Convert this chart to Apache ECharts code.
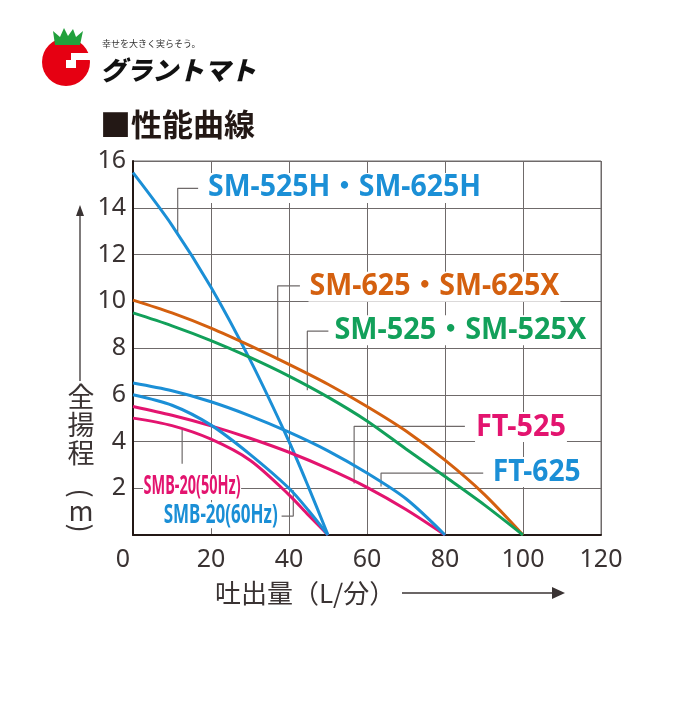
<!DOCTYPE html>
<html lang="ja">
<head>
  <meta charset="utf-8">
  <script src="https://cdn.jsdelivr.net/npm/echarts@6/dist/echarts.min.js"></script>
  <style>
    html, body { margin: 0; padding: 0; background: #fff; }
    #chart { width: 700px; height: 721px; }
  </style>
</head>
<body>
<div id="chart"></div>
<script>
  // 性能曲線データ（吐出量 L/分 → 全揚程 m）
  var flow100 = [0, 10, 20, 30, 40, 50, 60, 70, 80, 90, 100];
  var headSM625 = [10.05, 9.5, 8.85, 8.1, 7.3, 6.45, 5.5, 4.45, 3.2, 1.75, 0];
  var headSM525 = [9.5, 8.95, 8.32, 7.6, 6.8, 5.9, 4.88, 3.68, 2.5, 1.3, 0];

  var flow80 = [0, 10, 20, 30, 40, 50, 60, 70, 80];
  var headFT525 = [5.5, 5.12, 4.67, 4.14, 3.54, 2.84, 2.04, 1.09, 0];
  var headFT625 = [6.5, 6.17, 5.7, 5.1, 4.4, 3.6, 2.65, 1.55, 0];

  var flow50 = [0, 10, 20, 30, 40, 45, 50];
  var headSM525H = [15.5, 13.25, 10.6, 7.5, 4.0, 2.05, 0];
  var headSMB50 = [5.0, 4.68, 4.1, 3.2, 1.72, 0.85, 0];
  var headSMB60 = [6.0, 5.55, 4.7, 3.45, 2.0, 1.05, 0];

  var xTicks = [0, 20, 40, 60, 80, 100, 120];
  var yTicks = [0, 2, 4, 6, 8, 10, 12, 14, 16];

  var labelNames = ['SM-525H・SM-625H', 'SM-625・SM-625X', 'SM-525・SM-525X',
                    'FT-525', 'FT-625', 'SMB-20(50Hz)', 'SMB-20(60Hz)'];
  // 引き出し線（データ座標）
  var leaderLines = [
    [[16.7, 14.83], [11.46, 14.83], [11.46, 12.9]],
    [[42.8, 10.66], [37.1, 10.66], [37.1, 7.48]],
    [[50.1, 8.72], [44.7, 8.72], [44.7, 6.19]],
    [[85.1, 4.65], [56.7, 4.65], [56.7, 2.2]],
    [[89.8, 2.65], [63.6, 2.65], [63.6, 2.08]],
    [[12.6, 4.5], [12.6, 3.05]],
    [[38.1, 0.81], [41.1, 0.81], [41.1, 1.91]]
  ];
  // ラベル位置（左端・中央、データ座標）
  var labelAnchors = [[19.0, 14.85], [45.0, 10.62], [51.4, 8.76], [87.7, 4.62],
                      [92.0, 2.69], [2.56, 2.05], [7.7, 0.84]];

  var BLUE = '#1b8fd6', ORANGE = '#d4600f', GREEN = '#12a05a', PINK = '#e3146f';
  var GRIDC = '#6f6a6a', INK = '#3a3333';

  function pairs(xs, ys) {
    return xs.map(function (x, i) { return [x, ys[i]]; });
  }

  var curves = [
    {x: flow50, y: headSM525H, color: BLUE},
    {x: flow100, y: headSM625, color: ORANGE},
    {x: flow100, y: headSM525, color: GREEN},
    {x: flow80, y: headFT525, color: PINK},
    {x: flow80, y: headFT625, color: BLUE},
    {x: flow50, y: headSMB50, color: PINK},
    {x: flow50, y: headSMB60, color: BLUE}
  ];
  // ラベルの見た目（文字サイズ・幅）
  var labelStyle = [
    {color: BLUE, font: 'bold 30px "Noto Sans", "Noto Sans CJK JP"', width: 273},
    {color: ORANGE, font: 'bold 30px "Noto Sans", "Noto Sans CJK JP"', width: 250},
    {color: GREEN, font: 'bold 30px "Noto Sans", "Noto Sans CJK JP"', width: 252},
    {color: PINK, font: 'bold 30px "Noto Sans", "Noto Sans CJK JP"', width: 90},
    {color: BLUE, font: 'bold 30px "Noto Sans", "Noto Sans CJK JP"', width: 88},
    {color: PINK, font: 'bold 26px "Noto Sans", "Noto Sans CJK JP"', width: 97},
    {color: BLUE, font: 'bold 26px "Noto Sans", "Noto Sans CJK JP"', width: 114}
  ];

  var chart = echarts.init(document.getElementById('chart'));

  var series = [];
  leaderLines.forEach(function (pts) {
    series.push({
      type: 'line', data: pts, silent: true, symbol: 'none', z: 2,
      lineStyle: {color: GRIDC, width: 1.2}, animation: false
    });
  });
  curves.forEach(function (c) {
    series.push({
      type: 'line', data: pairs(c.x, c.y), smooth: 0.3,
      symbol: 'none', z: 3, animation: false,
      lineStyle: {color: c.color, width: 3}
    });
  });

  var option = {
    animation: false,
    grid: {left: 133, right: 99, top: 161, bottom: 186, show: true,
           borderColor: GRIDC, borderWidth: 1},
    xAxis: {
      type: 'value', min: xTicks[0], max: xTicks[xTicks.length - 1], interval: 20,
      axisLine: {show: true, lineStyle: {color: '#231815', width: 2}},
      axisTick: {show: false},
      splitLine: {show: true, lineStyle: {color: GRIDC, width: 1}},
      axisLabel: {
        margin: 12, color: INK, fontSize: 25, fontFamily: 'Noto Sans',
        formatter: function (v) { return v === 0 ? '{o|0}' : String(v); },
        rich: {o: {fontSize: 25, color: INK, fontFamily: 'Noto Sans', padding: [0, 20, 0, 0]}}
      }
    },
    yAxis: {
      type: 'value', min: yTicks[0], max: yTicks[yTicks.length - 1], interval: 2,
      axisLine: {show: true, lineStyle: {color: '#231815', width: 2}},
      axisTick: {show: false},
      splitLine: {show: true, lineStyle: {color: GRIDC, width: 1}},
      axisLabel: {
        margin: 7, color: INK, fontSize: 25, fontFamily: 'Noto Sans',
        formatter: function (v) { return v === 0 ? '' : String(v); }
      }
    },
    series: series
  };
  chart.setOption(option);

  var ctx = document.createElement('canvas').getContext('2d');
  function fitScale(text, font, target) {
    ctx.font = font;
    return target / ctx.measureText(text).width;
  }

  var graphics = [];
  labelNames.forEach(function (name, i) {
    var p = chart.convertToPixel({gridIndex: 0}, labelAnchors[i]);
    var st = labelStyle[i];
    graphics.push({
      type: 'text', x: p[0], y: p[1], z: 10,
      scaleX: fitScale(name, st.font, st.width),
      style: {text: name, font: st.font, fill: st.color, align: 'left',
              verticalAlign: 'middle', backgroundColor: '#fff', padding: [0, 1]}
    });
  });

  // 見出し
  graphics.push({
    type: 'text', x: 100, y: 124,
    style: {text: '■性能曲線', font: 'bold 31px "Noto Sans CJK JP"', fill: '#231815',
            verticalAlign: 'middle'}
  });
  // ロゴ
  graphics.push({type: 'circle', shape: {cx: 66, cy: 62, r: 24}, style: {fill: '#e60012'}});
  graphics.push({type: 'rect', shape: {x: 71, y: 53, width: 22, height: 7}, style: {fill: '#fff'}});
  graphics.push({type: 'rect', shape: {x: 66, y: 60, width: 10, height: 8}, style: {fill: '#fff'}});
  graphics.push({type: 'ellipse', shape: {cx: 52, cy: 50, rx: 3, ry: 5}, rotation: -0.6,
                 x: 0, y: 0, style: {fill: '#ffffff', opacity: 0.8}});
  graphics.push({type: 'polygon', shape: {points: [[55, 45], [53, 31], [60, 37], [64, 28], [68, 36],
                 [73, 29], [76, 37], [83, 31], [80, 45]]}, style: {fill: '#22a03c'}});
  graphics.push({type: 'text', x: 102, y: 44,
                 style: {text: '幸せを大きく実らそう。', font: '9px "Noto Sans CJK JP"', fill: '#333',
                         verticalAlign: 'middle'}});
  graphics.push({type: 'text', x: 100, y: 70,
                 style: {text: 'グラントマト', font: 'italic 900 26px "Noto Sans CJK JP"', fill: '#111',
                         verticalAlign: 'middle'}});

  // 縦軸名
  graphics.push({type: 'line', shape: {x1: 80, y1: 381, x2: 80, y2: 214},
                 style: {stroke: INK, lineWidth: 1.3}});
  graphics.push({type: 'polygon', shape: {points: [[80, 205], [76, 216], [84, 216]]}, style: {fill: INK}});
  var yName = [['全', 397], ['揚', 425], ['程', 453], ['m', 511]];
  yName.forEach(function (c) {
    graphics.push({type: 'text', x: 81, y: c[1],
                   style: {text: c[0], font: '27px "Noto Sans CJK JP"', fill: INK,
                           align: 'center', verticalAlign: 'middle'}});
  });
  // 縦書きの括弧（横の括弧を90度回転）
  [['(', 493], [')', 528]].forEach(function (c) {
    graphics.push({type: 'text', x: 81, y: c[1], rotation: -Math.PI / 2,
                   style: {text: c[0], font: '27px "Noto Sans CJK JP"', fill: INK,
                           align: 'center', verticalAlign: 'middle'}});
  });
  // 横軸名
  graphics.push({type: 'text', x: 215, y: 593,
                 style: {text: '吐出量（L/分）', font: '26px "Noto Sans CJK JP"', fill: INK,
                         verticalAlign: 'middle'}});
  graphics.push({type: 'line', shape: {x1: 402, y1: 593, x2: 554, y2: 593},
                 style: {stroke: INK, lineWidth: 1.3}});
  graphics.push({type: 'polygon', shape: {points: [[565, 593], [552, 587], [552, 599]]}, style: {fill: INK}});

  chart.setOption({graphic: graphics});
</script>
</body>
</html>
